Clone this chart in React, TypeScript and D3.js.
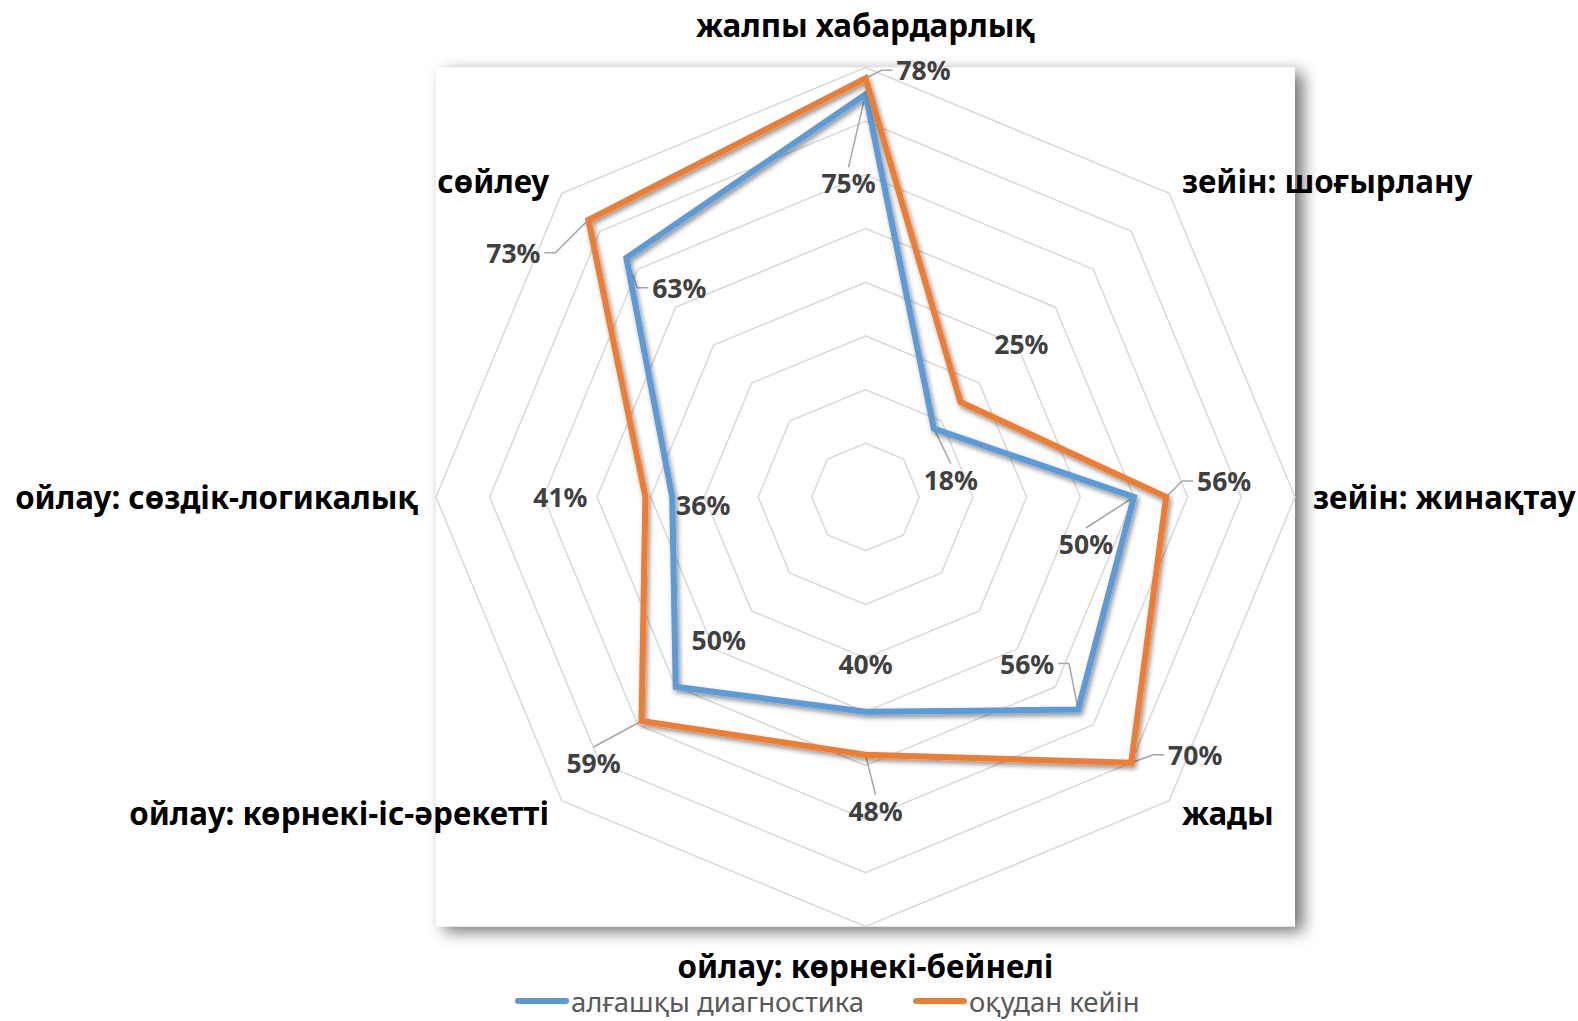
import React from "react";
import * as d3 from "d3";

const categories = [
  "жалпы хабардарлық",
  "зейін: шоғырлану",
  "зейін: жинақтау",
  "жады",
  "ойлау: көрнекі-бейнелі",
  "ойлау: көрнекі-іс-әрекетті",
  "ойлау: сөздік-логикалық",
  "сөйлеу",
];
const seriesNames = ["алғашқы диагностика", "оқудан кейін"];
const initialDiagnostics = [75, 18, 50, 56, 40, 50, 36, 63];
const afterTraining = [78, 25, 56, 70, 48, 59, 41, 73];
const gridTicks = [10, 20, 30, 40, 50, 60, 70, 80];

// label placement styling (pixel offsets from the point, leader attachment side)
const blueLabelOffsets = [[-17, 89], [17, 51], [-48, 47], [-51, -46], [0, -48], [43, -47], [31, 8], [53, 30]];
const blueLeaders = ["t", "t", "t", "r", "", "", "", "l"];
const orangeLabelOffsets = [[58, -8], [61, -58], [58, -16], [64, -8], [10, 56], [-48, 42], [-85, 0], [-75, 33]];
const orangeLeaders = ["l", "", "l", "l", "t", "t", "", "r"];

const W = 1578;
const H = 1021;
const CX = 865.5;
const CY = 497;
const R = 429.5;
const BLUE = "#5B9BD5";
const ORANGE = "#ED7D31";
const FONT = "'Noto Sans', 'Open Sans', 'Liberation Sans', sans-serif";

export default function App() {
  const n = categories.length;
  const r = d3.scaleLinear().domain([0, 80]).range([0, R]);
  const angle = d3.scaleLinear().domain([0, n]).range([0, 2 * Math.PI]);
  const pt = (i: number, v: number) => {
    const a = angle(i);
    return [CX + r(v) * Math.sin(a), CY - r(v) * Math.cos(a)];
  };
  const radial = d3
    .lineRadial<number>()
    .angle((_, i) => angle(i))
    .radius((v) => r(v))
    .curve(d3.curveLinearClosed);

  const ring = (t: number) => radial(d3.range(n).map(() => t)) as string;

  const series = [
    { values: initialDiagnostics, color: BLUE, offsets: blueLabelOffsets, leaders: blueLeaders },
    { values: afterTraining, color: ORANGE, offsets: orangeLabelOffsets, leaders: orangeLeaders },
  ];

  const hw = 29;
  const hh = 13;

  const leaderPath = (px: number, py: number, lx: number, ly: number, side: string) => {
    if (side === "l") {
      const x0 = lx - hw - 2;
      return `M${x0},${ly}L${x0 - 11},${ly}L${px},${py}`;
    }
    if (side === "r") {
      const x0 = lx + hw + 2;
      return `M${x0},${ly}L${x0 + 11},${ly}L${px},${py}`;
    }
    if (side === "t") {
      return `M${lx},${ly - hh - 3}L${px},${py}`;
    }
    if (side === "b") {
      return `M${lx},${ly + hh + 3}L${px},${py}`;
    }
    return "";
  };

  const catR = R + 18;
  const legendY = 1001;

  return (
    <svg
      width={W}
      height={H}
      style={{ position: "absolute", left: 0, top: 0, background: "#fff" }}
      fontFamily={FONT}
    >
      <defs>
        <filter id="plotShadow" x="-10%" y="-10%" width="120%" height="120%">
          <feDropShadow dx="8" dy="5" stdDeviation="8" floodColor="#000" floodOpacity="0.55" />
        </filter>
        <filter id="lineShadow" x="-10%" y="-10%" width="120%" height="120%">
          <feDropShadow dx="2" dy="3" stdDeviation="2.5" floodColor="#000" floodOpacity="0.45" />
        </filter>
      </defs>
      <rect x={CX - R} y={CY - R} width={2 * R} height={2 * R} fill="#fff" filter="url(#plotShadow)" />
      <g transform={`translate(${CX},${CY})`}>
        {gridTicks.map((t) => (
          <path key={t} d={ring(t)} fill="none" stroke="#d9d9d9" strokeWidth={1.5} />
        ))}
      </g>
      {series.map((s, si) =>
        s.values.map((v, i) => {
          const [px, py] = pt(i, v);
          const lx = px + s.offsets[i][0];
          const ly = py + s.offsets[i][1];
          const d = leaderPath(px, py, lx, ly, s.leaders[i]);
          return d ? <path key={`ld${si}-${i}`} d={d} fill="none" stroke="#a6a6a6" strokeWidth={1.5} /> : null;
        })
      )}
      <g transform={`translate(${CX},${CY})`}>
        {series.map((s, si) => (
          <path
            key={si}
            d={radial(s.values) as string}
            fill="none"
            stroke={s.color}
            strokeWidth={6}
            strokeLinejoin="miter"
            filter="url(#lineShadow)"
          />
        ))}
      </g>
      {series.map((s, si) =>
        s.values.map((v, i) => {
          const [px, py] = pt(i, v);
          return (
            <text
              key={`lb${si}-${i}`}
              x={px + s.offsets[i][0]}
              y={py + s.offsets[i][1]}
              textAnchor="middle"
              dominantBaseline="central"
              fontSize={26.5}
              fontWeight="bold"
              fill="#404040"
            >
              {`${v}%`}
            </text>
          );
        })
      )}
      {categories.map((c, i) => {
        const a = angle(i);
        const sx = Math.sin(a);
        const cy = Math.cos(a);
        const x = CX + catR * sx;
        let y = CY - catR * cy;
        let anchor = "middle";
        if (sx > 0.1) anchor = "start";
        else if (sx < -0.1) anchor = "end";
        if (Math.abs(sx) < 0.1) y += cy > 0 ? -25 : 21;
        return (
          <text
            key={c}
            x={x}
            y={y}
            textAnchor={anchor}
            dominantBaseline="central"
            fontSize={31.3}
            fontWeight="bold"
            fill="#000"
          >
            {c}
          </text>
        );
      })}
      {[
        { name: seriesNames[0], color: BLUE, x: 515 },
        { name: seriesNames[1], color: ORANGE, x: 913 },
      ].map((l) => (
        <g key={l.name}>
          <line x1={l.x + 3} x2={l.x + 51} y1={legendY} y2={legendY} stroke={l.color} strokeWidth={6} strokeLinecap="round" />
          <text x={l.x + 56} y={legendY} dominantBaseline="central" fontSize={27.5} fill="#595959">
            {l.name}
          </text>
        </g>
      ))}
    </svg>
  );
}
